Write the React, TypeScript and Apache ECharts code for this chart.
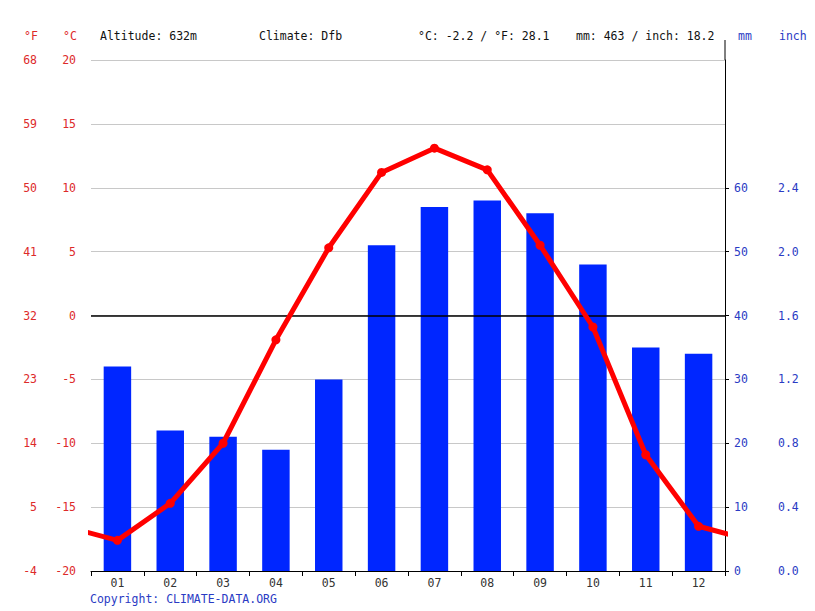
import React, { useEffect, useRef } from "react";
import * as echarts from "echarts";

const months = ["01", "02", "03", "04", "05", "06", "07", "08", "09", "10", "11", "12"];
const temperatureC = [-17.6, -14.7, -10.0, -1.9, 5.3, 11.2, 13.1, 11.4, 5.5, -0.9, -10.9, -16.5];
const precipitationMm = [32, 22, 21, 19, 30, 51, 57, 58, 56, 48, 35, 34];
const mmTicks = [0, 10, 20, 30, 40, 50, 60];
const inchTicks = [0, 0.4, 0.8, 1.2, 1.6, 2.0, 2.4];

const FONT = "DejaVu Sans Mono";
const RED = "#dd2a2a";
const BLUE = "#2a3bc4";

export default function App() {
  const ref = useRef<HTMLDivElement>(null);

  useEffect(() => {
    if (!ref.current) return;
    const chart = echarts.init(ref.current, null, { renderer: "svg" });

    // Line points sit at category centres; the Dec/Jan neighbours on either side
    // continue the yearly cycle and get clipped at the plot edges.
    const n = temperatureC.length;
    const linePoints: [number, number][] = [[-0.5, temperatureC[n - 1]]];
    temperatureC.forEach((t, i) => linePoints.push([i + 0.5, t]));
    linePoints.push([n + 0.5, temperatureC[0]]);

    const textStyle = (text: string, x: number, y: number, fill: string, align = "left") => ({
      type: "text",
      x,
      y,
      style: {
        text,
        fill,
        font: `11.5px "${FONT}"`,
        textAlign: align,
        textVerticalAlign: "middle",
      },
    });

    chart.setOption({
      animation: false,
      backgroundColor: "#ffffff",
      grid: { left: 91, right: 90, top: 60, bottom: 40, containLabel: false },
      xAxis: [
        {
          type: "category",
          data: months,
          boundaryGap: true,
          axisLine: { show: true, onZero: false, lineStyle: { color: "#000", width: 1 } },
          axisTick: { show: true, alignWithLabel: false, length: 5, lineStyle: { color: "#000" } },
          axisLabel: { color: "#333", fontFamily: FONT, fontSize: 11.5, margin: 6 },
          splitLine: { show: false },
        },
        {
          type: "value",
          min: 0,
          max: 12,
          show: false,
        },
      ],
      yAxis: [
        {
          type: "value",
          position: "left",
          min: -20,
          max: 20,
          interval: 5,
          axisLine: { show: false },
          axisTick: { show: false },
          axisLabel: { color: RED, fontFamily: FONT, fontSize: 11.5, margin: 15 },
          splitLine: { show: true, lineStyle: { color: "#c8c8c8", width: 1 } },
        },
        {
          type: "value",
          position: "left",
          offset: 46,
          min: -4,
          max: 68,
          interval: 9,
          axisLine: { show: false },
          axisTick: { show: false },
          axisLabel: { color: RED, fontFamily: FONT, fontSize: 11.5, margin: 8 },
          splitLine: { show: false },
        },
        {
          type: "value",
          position: "right",
          min: 0,
          max: 80,
          interval: 10,
          axisLine: { show: true, onZero: false, lineStyle: { color: "#000", width: 1 } },
          axisTick: { show: true, length: 4, lineStyle: { color: "#000" }, customValues: mmTicks },
          axisLabel: {
            color: BLUE,
            fontFamily: FONT,
            fontSize: 11.5,
            margin: 9,
            customValues: mmTicks,
          },
          splitLine: { show: false },
        },
        {
          type: "value",
          position: "right",
          offset: 40,
          min: 0,
          max: 3.2,
          interval: 0.4,
          axisLine: { show: false },
          axisTick: { show: false },
          axisLabel: {
            color: BLUE,
            fontFamily: FONT,
            fontSize: 11.5,
            margin: 13,
            customValues: inchTicks,
            formatter: (v: number) => v.toFixed(1),
          },
          splitLine: { show: false },
        },
      ],
      series: [
        {
          type: "bar",
          name: "mm",
          xAxisIndex: 0,
          yAxisIndex: 2,
          data: precipitationMm,
          barWidth: "52%",
          itemStyle: { color: "#0026ff" },
          z: 2,
        },
        {
          type: "line",
          name: "°C",
          xAxisIndex: 1,
          yAxisIndex: 0,
          data: linePoints,
          clip: true,
          symbol: "circle",
          symbolSize: 9,
          lineStyle: { color: "#ff0000", width: 5 },
          itemStyle: { color: "#ff0000" },
          z: 4,
          markLine: {
            silent: true,
            symbol: "none",
            label: { show: false },
            lineStyle: { color: "#000", width: 1.5, type: "solid" },
            data: [{ yAxis: 0 }],
            z: 3,
          },
        },
      ],
      graphic: [
        textStyle("°F", 31, 36, RED, "center"),
        textStyle("°C", 70, 36, RED, "center"),
        textStyle("Altitude: 632m", 100, 36, "#111"),
        textStyle("Climate: Dfb", 259, 36, "#111"),
        textStyle("°C: -2.2 / °F: 28.1", 418, 36, "#111"),
        textStyle("mm: 463 / inch: 18.2", 576, 36, "#111"),
        textStyle("mm", 745, 36, BLUE, "center"),
        textStyle("inch", 779, 36, BLUE),
        textStyle("Copyright: CLIMATE-DATA.ORG", 90, 599, BLUE),
        {
          type: "line",
          shape: { x1: 725, y1: 40, x2: 725, y2: 60 },
          style: { stroke: "#000", lineWidth: 1 },
        },
      ],
    });

    return () => chart.dispose();
  }, []);

  return (
    <div
      ref={ref}
      style={{ position: "absolute", left: 0, top: 0, width: 815, height: 611 }}
    />
  );
}
